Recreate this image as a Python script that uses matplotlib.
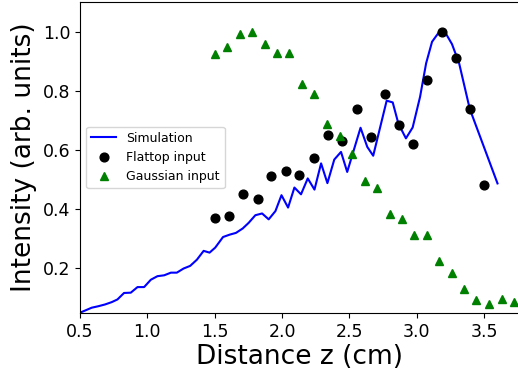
import matplotlib
matplotlib.use('Agg')
import matplotlib.pyplot as plt

# simulation curve
sim_z = [0.5, 0.587, 0.636, 0.686, 0.736, 0.778, 0.827, 0.877, 0.927, 0.976,
         1.026, 1.075, 1.125, 1.175, 1.219, 1.269, 1.318, 1.368, 1.418, 1.462,
         1.504, 1.562, 1.611, 1.658, 1.708, 1.752, 1.802, 1.852, 1.901, 1.951,
         1.996, 2.045, 2.092, 2.141, 2.191, 2.241, 2.29, 2.337, 2.388, 2.438,
         2.484, 2.583, 2.633, 2.677, 2.777, 2.822, 2.864, 2.92, 2.97, 3.025,
         3.07, 3.114, 3.168, 3.215, 3.262, 3.315, 3.394, 3.60]
sim_i = [0.048, 0.065, 0.070, 0.076, 0.084, 0.093, 0.115, 0.116, 0.135, 0.135,
         0.160, 0.172, 0.175, 0.184, 0.184, 0.198, 0.207, 0.228, 0.258, 0.252,
         0.269, 0.305, 0.313, 0.319, 0.334, 0.353, 0.379, 0.385, 0.365, 0.393,
         0.447, 0.405, 0.473, 0.450, 0.504, 0.466, 0.555, 0.488, 0.568, 0.594,
         0.526, 0.676, 0.611, 0.581, 0.768, 0.762, 0.690, 0.640, 0.677, 0.781,
         0.895, 0.968, 1.002, 0.997, 0.960, 0.895, 0.740, 0.487]

# flattop input measurements
flat_z = [1.5, 1.609, 1.713, 1.819, 1.921, 2.028, 2.129, 2.236, 2.343, 2.447,
          2.554, 2.658, 2.764, 2.868, 2.975, 3.08, 3.186, 3.29, 3.397, 3.50]
flat_i = [0.369, 0.378, 0.452, 0.435, 0.512, 0.528, 0.517, 0.574, 0.653, 0.631,
          0.738, 0.645, 0.790, 0.687, 0.622, 0.837, 1.0, 0.913, 0.738, 0.480]

# gaussian input measurements
gauss_z = [1.5, 1.59, 1.685, 1.777, 1.871, 1.963, 2.055, 2.149, 2.241, 2.335,
           2.427, 2.519, 2.613, 2.705, 2.80, 2.891, 2.983, 3.074, 3.169, 3.26,
           3.352, 3.444, 3.538, 3.63, 3.724]
gauss_i = [0.928, 0.950, 0.995, 1.0, 0.962, 0.931, 0.930, 0.823, 0.791, 0.688,
           0.649, 0.587, 0.495, 0.471, 0.382, 0.365, 0.312, 0.312, 0.223, 0.182,
           0.129, 0.090, 0.078, 0.093, 0.084]

fig = plt.figure(figsize=(5.18, 3.73), dpi=100)
ax = fig.add_axes([80/518, 60/373, 440/518, 311/373])

ax.plot(sim_z, sim_i, 'b-', lw=1.5, label='Simulation')
ax.plot(flat_z, flat_i, 'ko', ms=6.3, ls='none', label='Flattop input')
ax.plot(gauss_z, gauss_i, 'g^', ms=5.8, ls='none', label='Gaussian input')

ax.set_xlim(0.5, 3.767)
ax.set_ylim(0.047, 1.103)
ax.set_xticks([0.5, 1.0, 1.5, 2.0, 2.5, 3.0, 3.5])
ax.set_yticks([0.2, 0.4, 0.6, 0.8, 1.0])
ax.tick_params(labelsize=12.5)
ax.set_xlabel('Distance z (cm)', fontsize=19, labelpad=2)
ax.set_ylabel('Intensity (arb. units)', fontsize=19)
ax.legend(loc='center left', fontsize=9)

fig.savefig('out.png', dpi=100)
